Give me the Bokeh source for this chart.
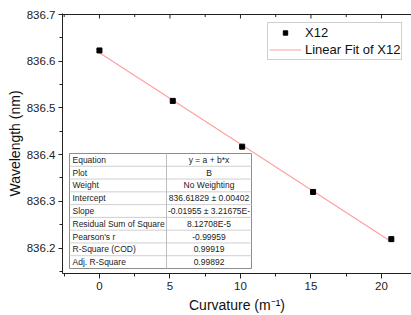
from bokeh.plotting import figure
from bokeh.models import FixedTicker, Legend, LegendItem, Range1d
from bokeh.embed import file_html
from bokeh.resources import INLINE
from bokeh.core.properties import value

# ---- data ----
curvature = [0, 5.2, 10.12, 15.15, 20.7]
wavelength = [836.623, 836.515, 836.417, 836.320, 836.219]
fit_intercept = 836.61829
fit_slope = -0.01955
x_ticks = [0, 5, 10, 15, 20]
x_minor = [-2.5, 2.5, 7.5, 12.5, 17.5, 22.5]
y_ticks = [836.2, 836.3, 836.4, 836.5, 836.6, 836.7]
y_minor = [836.15, 836.25, 836.35, 836.45, 836.55, 836.65]
table_labels = ["Equation", "Plot", "Weight", "Intercept", "Slope",
                "Residual Sum of Square", "Pearson's r", "R-Square (COD)", "Adj. R-Square"]
table_values = ["y = a + b*x", "B", "No Weighting", "836.61829 \u00b1 0.00402",
                "-0.01955 \u00b1 3.21675E-", "8.12708E-5", "-0.99959", "0.99919", "0.99892"]

# ---- layout (the page template has no body margin) ----
FIG_W, FIG_H = 411, 315
B_LEFT, B_TOP, B_BOTTOM, B_RIGHT = 62, 13, 42, 0
FRAME_L, FRAME_T = B_LEFT, B_TOP
FRAME_W = FIG_W - B_LEFT - B_RIGHT
FRAME_H = FIG_H - B_TOP - B_BOTTOM
X0, X1 = -2.62, 22.13
Y_PER_PX = 0.1 / 46.7
Y1 = 836.7 + Y_PER_PX          # one pixel of headroom for the top axis line
Y0 = Y1 - FRAME_H * Y_PER_PX

def px_x(px):
    return X0 + (px - FRAME_L) / FRAME_W * (X1 - X0)

def px_y(py):
    return Y1 - (py - FRAME_T) / FRAME_H * (Y1 - Y0)

FONT = "Liberation Sans"
AXC = "#222222"

p = figure(width=FIG_W, height=FIG_H, output_backend="svg", toolbar_location=None,
           x_range=Range1d(X0, X1), y_range=Range1d(Y0, Y1),
           min_border_left=B_LEFT, min_border_top=B_TOP,
           min_border_bottom=B_BOTTOM, min_border_right=B_RIGHT,
           x_axis_label="Curvature (m\u207b\u00b9)", y_axis_label="Wavelength (nm)")
p.outline_line_color = None
p.grid.visible = False

for ax, maj, mnr in ((p.xaxis[0], x_ticks, x_minor), (p.yaxis[0], y_ticks, y_minor)):
    ax.ticker = FixedTicker(ticks=maj, minor_ticks=mnr)
    ax.axis_line_color = AXC
    ax.major_tick_line_color = AXC
    ax.minor_tick_line_color = AXC
    ax.major_tick_in = 0
    ax.minor_tick_out = 3
    ax.minor_tick_in = 0
    ax.major_label_text_font = FONT
    ax.major_label_text_font_size = "11.5px"
    ax.major_label_text_color = AXC
    ax.axis_label_text_font = FONT
    ax.axis_label_text_font_size = "14px"
    ax.axis_label_text_font_style = "normal"
    ax.axis_label_text_color = "#111111"
p.xaxis[0].major_tick_out = 5
p.yaxis[0].major_tick_out = 4
p.xaxis[0].major_label_standoff = 3
p.xaxis[0].axis_label_standoff = 4
p.yaxis[0].major_label_standoff = 3
p.yaxis[0].axis_label_standoff = 1

# top axis line with inward ticks
top_y = y_ticks[-1]
tick_len_major = 4 * Y_PER_PX
tick_len_minor = 2.5 * Y_PER_PX
p.segment(x0=[X0], x1=[X1], y0=[top_y], y1=[top_y], line_color=AXC, line_width=1)
p.segment(x0=x_ticks, x1=x_ticks, y0=[top_y] * len(x_ticks),
          y1=[top_y - tick_len_major] * len(x_ticks), line_color=AXC, line_width=1)
p.segment(x0=x_minor, x1=x_minor, y0=[top_y] * len(x_minor),
          y1=[top_y - tick_len_minor] * len(x_minor), line_color=AXC, line_width=1)

# fit line and data
fit_x = [curvature[0], curvature[-1]]
fit_y = [fit_intercept + fit_slope * v for v in fit_x]
ln = p.line(fit_x, fit_y, line_color="#ffa0a0", line_width=1.2)
sc = p.scatter(curvature, wavelength, marker="square", size=5, color="black")

# table
T_L, T_R, T_C, T_T, T_B = 69, 251, 166, 153, 268
n = len(table_labels)
rh = (T_B - T_T) / n
p.quad(left=[px_x(T_L)], right=[px_x(T_R)], top=[px_y(T_T)], bottom=[px_y(T_B)],
       fill_color="white", line_color="#8c8c8c", line_width=1)
sep_y = [px_y(T_T + rh * (i + 1)) for i in range(n - 1)]
p.segment(x0=[px_x(T_L)] * (n - 1), x1=[px_x(T_R)] * (n - 1), y0=sep_y, y1=sep_y,
          line_color="#cfcfcf", line_width=1)
p.segment(x0=[px_x(T_C)], x1=[px_x(T_C)], y0=[px_y(T_T)], y1=[px_y(T_B)],
          line_color="#bdbdbd", line_width=1)
row_y = [px_y(T_T + rh * (i + 0.5)) for i in range(n)]
p.text(x=[px_x(T_L + 3)] * n, y=row_y, text=table_labels, text_font=value(FONT),
       text_font_size="8.5px", text_baseline="middle", text_align="left", text_color="#222222")
p.text(x=[px_x((T_C + T_R) / 2)] * n, y=row_y, text=table_values, text_font=value(FONT),
       text_font_size="8.5px", text_baseline="middle", text_align="center", text_color="#222222")

legend = Legend(items=[LegendItem(label="X12", renderers=[sc]),
                       LegendItem(label="Linear Fit of X12", renderers=[ln])],
                location=(205, 213))
legend.label_text_font = FONT
legend.label_text_font_size = "13px"
legend.label_text_color = "#111111"
legend.border_line_color = "#a0a0a0"
legend.padding = 1
legend.margin = 0
legend.spacing = 0
legend.glyph_width = 32
legend.glyph_height = 11
legend.label_height = 17
legend.label_standoff = 4
p.add_layout(legend)

open("out.html", "w").write(file_html(p, INLINE))
